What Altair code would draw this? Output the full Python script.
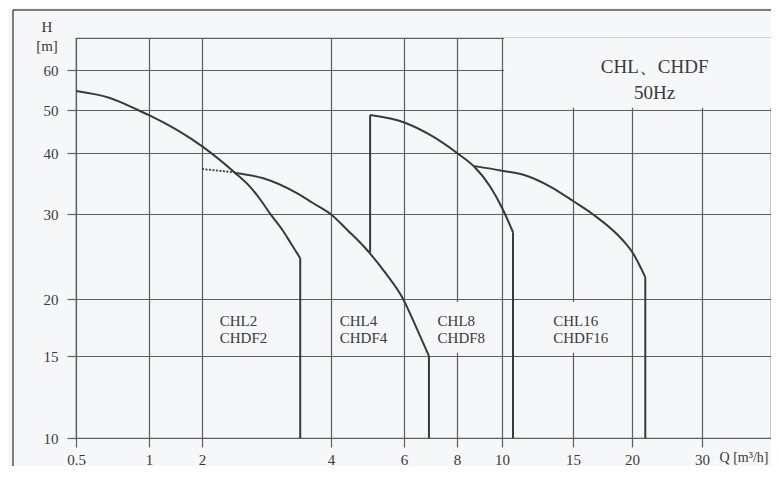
import altair as alt
import pandas as pd

# ---------------- data ----------------
x_ticks = [0.5, 1, 2, 4, 6, 8, 10, 15, 20, 30]
y_ticks = [10, 15, 20, 30, 40, 50, 60]

# the scanned chart's axes are not uniform: piecewise log scale breakpoints
x_breaks = [0.5, 1, 2, 4, 6, 8, 10, 15, 20, 30, 43.6]
x_pix = [0, 73, 126, 255, 328, 381, 426, 497, 556, 626, 695]
y_breaks = [10, 15, 20, 30, 40, 50, 60, 69.4]
y_pix = [400, 318, 261, 176, 115, 72, 32, 0]

chl2_q = [0.5, 0.69, 0.90, 1.0, 1.44, 2.01, 2.39, 2.59, 2.73, 2.88, 3.09, 3.24, 3.39]
chl2_h = [54.5, 52.8, 50.0, 48.7, 45.1, 41.3, 36.4, 34.1, 32.2, 30.1, 27.7, 25.9, 24.3]

chl4_dot_q = [2.0, 2.39]
chl4_dot_h = [37.1, 36.5]
chl4_q = [2.39, 2.78, 3.33, 3.63, 3.99, 4.40, 4.88, 5.4, 5.97, 6.4, 6.87]
chl4_h = [36.4, 35.5, 33.1, 31.6, 30.0, 27.7, 25.3, 22.7, 20.0, 17.4, 15.0]

chl8_q = [4.97, 6.03, 6.98, 8.0, 8.74, 9.42, 10.0, 10.65]
chl8_h = [48.7, 46.8, 43.7, 40.0, 37.4, 34.2, 30.9, 27.5]

chl16_q = [8.74, 10.0, 11.3, 13.2, 15.0, 16.5, 19.1, 20.1, 21.6]
chl16_h = [37.6, 36.8, 36.1, 34.1, 31.9, 30.0, 26.5, 24.9, 22.2]

# vertical limit lines (Q, H from, H to)
vert_q = [3.39, 6.87, 4.97, 10.65, 21.6]
vert_h1 = [24.3, 15.0, 25.0, 27.5, 22.2]
vert_h2 = [10.0, 10.0, 48.7, 10.0, 10.0]

label_text = ["CHL2", "CHDF2", "CHL4", "CHDF4", "CHL8", "CHDF8", "CHL16", "CHDF16"]
label_q = [2.2, 2.2, 4.2, 4.2, 7.2, 7.2, 13.4, 13.4]
label_h = [17.9, 16.4, 17.9, 16.4, 17.9, 16.4, 17.9, 16.4]

# label boxes that hide gridlines behind the text
box_q1 = [7.1, 13.1]
box_q2 = [9.7, 17.9]
box_h1 = [15.25, 15.25]
box_h2 = [19.7, 19.7]

title_text = ["CHL、CHDF", "50Hz"]
title_q = [22.8, 22.8]
title_h = [60.8, 54.0]

y_title = ["H", "[m]"]

# ---------------- build tables ----------------
rows = []
for name, qs, hs in [("CHL2", chl2_q, chl2_h), ("CHL4", chl4_q, chl4_h),
                     ("CHL8", chl8_q, chl8_h), ("CHL16", chl16_q, chl16_h)]:
    for i, (q, h) in enumerate(zip(qs, hs)):
        rows.append({"series": name, "i": i, "q": q, "h": h})
curves = pd.DataFrame(rows)
dotted = pd.DataFrame({"q": chl4_dot_q, "h": chl4_dot_h})
verts = pd.DataFrame({"q": vert_q, "h1": vert_h1, "h2": vert_h2})
labels = pd.DataFrame({"t": label_text, "q": label_q, "h": label_h})
boxes = pd.DataFrame({"q1": box_q1, "q2": box_q2, "h1": box_h1, "h2": box_h2})
titles = pd.DataFrame({"t": title_text, "q": title_q, "h": title_h})
titlebox = pd.DataFrame({"q1": [10.12], "q2": [43.6], "h1": [50.5], "h2": [69.4]})

BG = "#f6f7f9"
GRID = "#5e5e5e"
INK = "#3a3a3a"
FONT = "Liberation Serif"

xscale = alt.Scale(type="log", domain=x_breaks, range=x_pix, nice=False)
yscale = alt.Scale(type="log", domain=y_breaks, range=y_pix, nice=False)

xaxis = alt.Axis(values=x_ticks, labelExpr="datum.value", grid=True, domain=False,
                 tickSize=9, tickColor=GRID, tickWidth=1.2, gridColor=GRID, gridWidth=1.2,
                 gridOpacity=1, labelFont=FONT, labelFontSize=15, labelColor=INK,
                 labelPadding=5, title="Q [m³/h]", titleFont=FONT, titleFontSize=14,
                 titleFontWeight="normal", titleColor=INK, titleX=692, titleY=19,
                 titleAlign="right", titleBaseline="middle", labelFlush=False,
                 labelOverlap=False)
yaxis = alt.Axis(values=y_ticks, labelExpr="datum.value", grid=True, domain=False,
                 tickSize=9, tickColor=GRID, tickWidth=1.2, gridColor=GRID, gridWidth=1.2,
                 gridOpacity=1, labelFont=FONT, labelFontSize=15, labelColor=INK,
                 labelPadding=9, title=None, labelFlush=False, labelOverlap=False)

X = lambda f: alt.X(f, type="quantitative", scale=xscale, axis=xaxis)
Y = lambda f: alt.Y(f, type="quantitative", scale=yscale, axis=yaxis)

base_box = alt.Chart(titlebox).mark_rect(color=BG).encode(
    x=X("q1"), x2="q2", y=Y("h1"), y2="h2")

label_boxes = alt.Chart(boxes).mark_rect(color=BG).encode(
    x=X("q1"), x2="q2", y=Y("h1"), y2="h2")

curve_layer = alt.Chart(curves).mark_line(color=INK, strokeWidth=2, interpolate="monotone").encode(
    x=X("q"), y=Y("h"), detail="series:N", order="i:Q")

dot_layer = alt.Chart(dotted).mark_line(color=INK, strokeWidth=1.8, strokeDash=[2, 1.5]).encode(
    x=X("q"), y=Y("h"))

vert_layer = alt.Chart(verts).mark_rule(color=INK, strokeWidth=2).encode(
    x=X("q"), y=Y("h1"), y2="h2")

label_layer = alt.Chart(labels).mark_text(align="left", baseline="middle", font=FONT,
                                          fontSize=15, color=INK).encode(
    x=X("q"), y=Y("h"), text="t:N")

title_layer = alt.Chart(titles).mark_text(align="center", baseline="middle", font=FONT,
                                          fontSize=19, color=INK).encode(
    x=X("q"), y=Y("h"), text="t:N")

# y-axis unit title, placed above the axis as in the reference
ytitle_h = alt.Chart(titlebox).mark_text(align="center", baseline="middle", font=FONT,
                                         fontSize=15, color=INK).encode(
    x=alt.value(-29), y=alt.value(-11), text=alt.value(y_title[0]))
ytitle_m = alt.Chart(titlebox).mark_text(align="center", baseline="middle", font=FONT,
                                         fontSize=15, color=INK).encode(
    x=alt.value(-29), y=alt.value(8), text=alt.value(y_title[1]))

# scanned page frame (decoration)
frame_left = alt.Chart(titlebox).mark_rule(color="#555555", strokeWidth=1.5).encode(
    x=alt.value(-63), y=alt.value(-28), y2=alt.value(430))
frame_top = alt.Chart(titlebox).mark_rule(color="#555555", strokeWidth=1.5).encode(
    x=alt.value(-63), x2=alt.value(697), y=alt.value(-28))

chart = alt.layer(
    base_box, label_boxes, curve_layer, dot_layer, vert_layer, label_layer, title_layer,
    ytitle_h, ytitle_m, frame_left, frame_top
).properties(
    width=695, height=400, autosize="none",
    padding={"left": 68, "top": 30, "right": 0, "bottom": 28},
    background=BG,
).configure_view(
    stroke=GRID, strokeWidth=1.2
)

chart.save("out.html", embed_options={"renderer": "svg", "actions": False})
